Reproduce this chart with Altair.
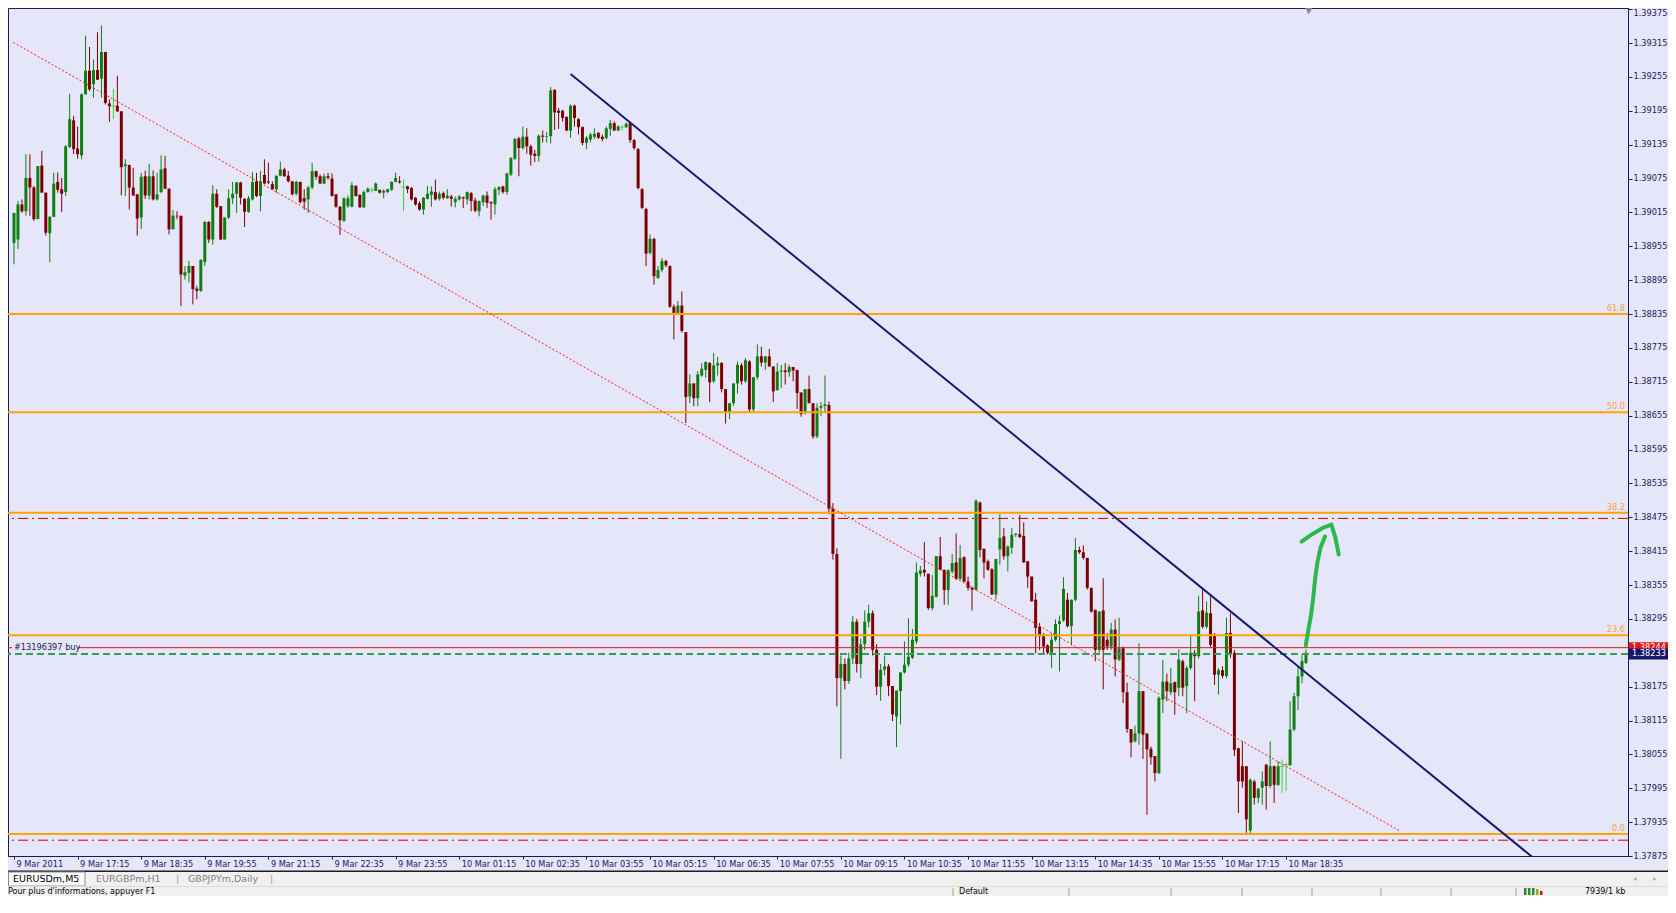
import altair as alt
import pandas as pd

# ---------------- values (EURUSDm, M5, 9-10 Mar 2011) ----------------
opens = [
1.38961,1.38967,1.39029,1.39017,1.39076,1.39059,1.39003,1.39098,1.39050,1.38978,
1.39007,1.39069,1.39056,1.39051,1.39131,1.39178,1.39128,1.39116,1.39224,1.39266,
1.39242,1.39267,1.39252,1.39299,1.39208,1.39203,1.39204,1.39194,1.39097,1.39099,
1.39059,1.39047,1.39006,1.39079,1.39045,1.39079,1.39038,1.39051,1.39093,1.39057,
1.38985,1.39009,1.39009,1.38903,1.38908,1.38920,1.38880,1.38876,1.38927,1.38998,
1.38967,1.39048,1.39026,1.38967,1.39006,1.39040,1.39048,1.39068,1.39039,1.39016,
1.39038,1.39070,1.39044,1.39081,1.39070,1.39065,1.39056,1.39080,1.39091,1.39080,
1.39070,1.39048,1.39069,1.39040,1.39038,1.39059,1.39088,1.39079,1.39066,1.39079,
1.39075,1.39047,1.39025,1.39000,1.39026,1.39025,1.39062,1.39046,1.39024,1.39051,
1.39055,1.39053,1.39055,1.39050,1.39051,1.39055,1.39069,1.39070,1.39060,1.39061,
1.39058,1.39041,1.39031,1.39020,1.39039,1.39046,1.39051,1.39039,1.39049,1.39040,
1.39043,1.39033,1.39038,1.39042,1.39038,1.39049,1.39036,1.39017,1.39033,1.39045,
1.39033,1.39029,1.39055,1.39061,1.39051,1.39082,1.39110,1.39146,1.39129,1.39149,
1.39132,1.39119,1.39115,1.39151,1.39149,1.39150,1.39232,1.39195,1.39195,1.39184,
1.39160,1.39204,1.39180,1.39166,1.39138,1.39144,1.39149,1.39156,1.39149,1.39147,
1.39163,1.39173,1.39160,1.39166,1.39166,1.39173,1.39143,1.39127,1.39056,1.39021,
1.38943,1.38968,1.38899,1.38913,1.38929,1.38920,1.38848,1.38837,1.38850,
1.38803,1.38689,1.38712,1.38686,1.38726,1.38736,1.38748,1.38716,1.38744,1.38748,
1.38702,1.38660,1.38677,1.38712,1.38744,1.38716,1.38751,1.38666,1.38723,1.38760,
1.38749,1.38760,1.38742,1.38700,1.38733,1.38735,1.38732,1.38741,1.38736,1.38696,
1.38660,1.38702,1.38677,1.38618,1.38669,1.38672,1.38674,1.38490,1.38410,1.38190,
1.38215,1.38185,1.38225,1.38290,1.38215,1.38250,1.38290,1.38305,1.38240,1.38175,
1.38205,
1.38211,1.38176,1.38122,1.38167,1.38200,1.38214,1.38226,1.38255,1.38375,1.38382,
1.38375,1.38314,1.38334,1.38406,1.38382,1.38346,1.38379,1.38395,1.38366,1.38404,
1.38361,1.38350,1.38347,1.38501,1.38419,1.38397,1.38383,1.38338,1.38418,1.38441,
1.38406,1.38421,1.38444,1.38445,1.38442,1.38397,1.38370,1.38329,1.38281,1.38264,
1.38248,1.38235,1.38258,1.38286,1.38292,1.38329,1.38282,1.38329,1.38417,1.38413,
1.38403,1.38350,1.38311,1.38240,1.38310,1.38258,1.38246,1.38276,1.38223,1.38243,
1.38165,1.38100,1.38078,1.38092,1.38167,1.38092,1.38065,1.38052,1.38022,1.38152,
1.38184,1.38165,1.38183,1.38173,1.38220,1.38176,1.38208,1.38235,1.38229,1.38310,
1.38281,1.38305,1.38267,1.38196,1.38204,1.38194,1.38270,1.38235,1.38066,1.38034,
1.38034,1.37920,1.38007,1.37978,1.37996,1.38037,1.37999,1.38034,1.38001,1.38034,
1.38037,1.38036,1.38099,1.38158,1.38193,1.38217,
]
highs = [
1.39014,1.39035,1.39038,1.39118,1.39118,1.39062,1.39097,1.39124,1.39050,1.39009,
1.39085,1.39086,1.39076,1.39134,1.39225,1.39186,1.39167,1.39226,1.39328,1.39308,
1.39286,1.39334,1.39346,1.39299,1.39215,1.39234,1.39257,1.39194,1.39109,1.39099,
1.39094,1.39047,1.39085,1.39089,1.39101,1.39089,1.39085,1.39116,1.39115,1.39057,
1.39019,1.39017,1.39009,1.38920,1.38929,1.38920,1.38885,1.38932,1.39000,1.39000,
1.39063,1.39056,1.39026,1.39006,1.39056,1.39069,1.39069,1.39069,1.39040,1.39044,
1.39086,1.39085,1.39088,1.39109,1.39103,1.39070,1.39080,1.39105,1.39094,1.39088,
1.39070,1.39071,1.39069,1.39056,1.39062,1.39103,1.39089,1.39082,1.39084,1.39085,
1.39084,1.39047,1.39026,1.39041,1.39045,1.39069,1.39063,1.39047,1.39054,1.39059,
1.39059,1.39068,1.39055,1.39056,1.39057,1.39070,1.39085,1.39079,1.39073,1.39062,
1.39060,1.39042,1.39035,1.39042,1.39062,1.39061,1.39073,1.39052,1.39052,1.39056,
1.39046,1.39043,1.39046,1.39043,1.39052,1.39051,1.39041,1.39036,1.39046,1.39052,
1.39035,1.39060,1.39061,1.39062,1.39085,1.39113,1.39147,1.39149,1.39167,1.39164,
1.39135,1.39126,1.39153,1.39160,1.39157,1.39237,1.39233,1.39200,1.39197,1.39185,
1.39206,1.39206,1.39182,1.39167,1.39150,1.39156,1.39164,1.39157,1.39153,1.39167,
1.39179,1.39176,1.39169,1.39170,1.39174,1.39174,1.39145,1.39129,1.39058,1.39023,
1.38976,1.38970,1.38920,1.38934,1.38931,1.38921,1.38852,1.38858,1.38875,
1.38803,1.38728,1.38712,1.38734,1.38748,1.38751,1.38750,1.38766,1.38759,1.38750,
1.38702,1.38677,1.38712,1.38751,1.38748,1.38757,1.38753,1.38723,1.38781,1.38777,
1.38760,1.38773,1.38742,1.38748,1.38745,1.38748,1.38745,1.38741,1.38736,1.38696,
1.38702,1.38726,1.38677,1.38677,1.38679,1.38726,1.38680,1.38500,1.38420,1.38230,
1.38225,1.38235,1.38300,1.38295,1.38260,1.38310,1.38320,1.38310,1.38250,1.38215,
1.38230,
1.38215,1.38176,1.38168,1.38201,1.38255,1.38296,1.38277,1.38395,1.38389,1.38431,
1.38375,1.38373,1.38406,1.38440,1.38382,1.38383,1.38410,1.38446,1.38426,1.38406,
1.38370,1.38352,1.38507,1.38503,1.38420,1.38400,1.38385,1.38401,1.38481,1.38456,
1.38425,1.38456,1.38447,1.38479,1.38466,1.38397,1.38370,1.38341,1.38288,1.38270,
1.38250,1.38270,1.38294,1.38301,1.38369,1.38341,1.38329,1.38438,1.38423,1.38425,
1.38403,1.38350,1.38311,1.38308,1.38367,1.38270,1.38288,1.38294,1.38297,1.38246,
1.38182,1.38100,1.38106,1.38252,1.38167,1.38092,1.38069,1.38052,1.38158,1.38222,
1.38198,1.38208,1.38184,1.38241,1.38223,1.38212,1.38267,1.38240,1.38336,1.38347,
1.38326,1.38335,1.38270,1.38208,1.38211,1.38297,1.38305,1.38240,1.38066,1.38078,
1.38034,1.38012,1.38010,1.37996,1.38025,1.38037,1.38078,1.38035,1.38043,1.38046,
1.38040,1.38149,1.38164,1.38211,1.38232,1.38241,
]
lows = [
1.38923,1.38950,1.39014,1.39009,1.39009,1.39000,1.39003,1.39050,1.38974,1.38927,
1.39007,1.39050,1.39016,1.39044,1.39129,1.39118,1.39110,1.39109,1.39224,1.39230,
1.39218,1.39250,1.39218,1.39206,1.39175,1.39180,1.39193,1.39045,1.39044,1.39020,
1.39044,1.38974,1.38986,1.39039,1.39038,1.39036,1.39036,1.39049,1.39056,1.38976,
1.38985,1.39003,1.38849,1.38896,1.38891,1.38852,1.38861,1.38874,1.38920,1.38961,
1.38958,1.39023,1.38966,1.38967,1.39003,1.39030,1.39014,1.39029,1.38989,1.39014,
1.39036,1.39042,1.39017,1.39065,1.39065,1.39055,1.39049,1.39079,1.39078,1.39068,
1.39045,1.39045,1.39031,1.39020,1.39014,1.39056,1.39073,1.39066,1.39065,1.39073,
1.39043,1.39023,1.38975,1.38998,1.39023,1.39024,1.39043,1.39023,1.39023,1.39050,
1.39050,1.39053,1.39048,1.39040,1.39049,1.39053,1.39068,1.39066,1.39017,1.39049,
1.39036,1.39027,1.39018,1.39011,1.39038,1.39025,1.39036,1.39036,1.39038,1.39039,
1.39025,1.39024,1.39036,1.39023,1.39029,1.39017,1.39015,1.39008,1.39026,1.39023,
1.39002,1.39011,1.39046,1.39048,1.39046,1.39079,1.39108,1.39079,1.39126,1.39119,
1.39098,1.39104,1.39105,1.39139,1.39139,1.39137,1.39161,1.39163,1.39176,1.39159,
1.39147,1.39167,1.39153,1.39134,1.39127,1.39139,1.39145,1.39145,1.39141,1.39144,
1.39150,1.39159,1.39159,1.39160,1.39164,1.39138,1.39126,1.39056,1.39021,1.38920,
1.38940,1.38887,1.38897,1.38909,1.38918,1.38846,1.38790,1.38834,1.38802,
1.38642,1.38677,1.38672,1.38672,1.38724,1.38722,1.38679,1.38713,1.38726,1.38696,
1.38641,1.38649,1.38672,1.38694,1.38710,1.38713,1.38660,1.38661,1.38719,1.38742,
1.38736,1.38742,1.38679,1.38700,1.38704,1.38710,1.38724,1.38716,1.38667,1.38653,
1.38657,1.38677,1.38614,1.38615,1.38654,1.38660,1.38480,1.38400,1.38140,1.38047,
1.38170,1.38180,1.38215,1.38200,1.38190,1.38240,1.38280,1.38230,1.38160,1.38150,
1.38195,
1.38158,1.38114,1.38068,1.38108,1.38198,1.38210,1.38224,1.38250,1.38370,1.38370,
1.38311,1.38310,1.38333,1.38381,1.38320,1.38320,1.38375,1.38364,1.38364,1.38360,
1.38345,1.38310,1.38345,1.38404,1.38367,1.38380,1.38338,1.38329,1.38391,1.38400,
1.38379,1.38410,1.38440,1.38438,1.38394,1.38350,1.38326,1.38234,1.38240,1.38234,
1.38232,1.38208,1.38255,1.38202,1.38290,1.38280,1.38248,1.38326,1.38410,1.38400,
1.38347,1.38306,1.38220,1.38235,1.38170,1.38240,1.38240,1.38193,1.38220,1.38146,
1.38093,1.38050,1.38076,1.38072,1.38047,1.37948,1.38037,1.38007,1.38020,1.38128,
1.38149,1.38160,1.38125,1.38158,1.38158,1.38128,1.38205,1.38149,1.38225,1.38278,
1.38278,1.38245,1.38178,1.38161,1.38190,1.38190,1.38226,1.38052,1.37951,1.37996,
1.37916,1.37914,1.37966,1.37969,1.37966,1.37957,1.37995,1.37969,1.37999,1.37987,
1.37990,1.38035,1.38096,1.38134,1.38181,1.38215,
]
closes = [
1.39014,1.39029,1.39017,1.39076,1.39059,1.39003,1.39097,1.39050,1.38979,1.39007,
1.39066,1.39055,1.39048,1.39132,1.39180,1.39127,1.39118,1.39224,1.39266,1.39233,
1.39267,1.39250,1.39299,1.39209,1.39203,1.39203,1.39194,1.39095,1.39100,1.39059,
1.39045,1.39004,1.39078,1.39045,1.39079,1.39038,1.39047,1.39091,1.39057,1.38985,
1.39009,1.39008,1.38905,1.38909,1.38920,1.38879,1.38876,1.38931,1.38998,1.38967,
1.39048,1.39025,1.38967,1.39006,1.39040,1.39048,1.39068,1.39041,1.39016,1.39040,
1.39069,1.39044,1.39070,1.39066,1.39068,1.39056,1.39080,1.39091,1.39079,1.39070,
1.39047,1.39069,1.39033,1.39034,1.39059,1.39088,1.39078,1.39066,1.39079,1.39076,
1.39044,1.39025,1.39001,1.39040,1.39040,1.39063,1.39044,1.39024,1.39051,1.39057,
1.39055,1.39066,1.39050,1.39053,1.39056,1.39069,1.39076,1.39068,1.39060,1.39056,
1.39038,1.39029,1.39020,1.39041,1.39048,1.39052,1.39038,1.39048,1.39041,1.39045,
1.39039,1.39039,1.39043,1.39040,1.39051,1.39035,1.39018,1.39035,1.39045,1.39032,
1.39031,1.39056,1.39060,1.39051,1.39084,1.39111,1.39145,1.39129,1.39149,1.39132,
1.39117,1.39115,1.39151,1.39149,1.39150,1.39231,1.39192,1.39191,1.39182,1.39160,
1.39204,1.39182,1.39166,1.39138,1.39147,1.39153,1.39154,1.39147,1.39145,1.39164,
1.39173,1.39160,1.39167,1.39166,1.39172,1.39143,1.39129,1.39058,1.39023,1.38942,
1.38968,1.38902,1.38913,1.38929,1.38921,1.38848,1.38837,1.38850,1.38805,
1.38688,1.38712,1.38686,1.38728,1.38738,1.38750,1.38714,1.38744,1.38748,1.38702,
1.38660,1.38677,1.38712,1.38745,1.38716,1.38753,1.38666,1.38723,1.38760,1.38749,
1.38760,1.38742,1.38698,1.38733,1.38735,1.38732,1.38741,1.38735,1.38695,1.38658,
1.38702,1.38677,1.38618,1.38669,1.38672,1.38675,1.38490,1.38410,1.38190,1.38215,
1.38185,1.38225,1.38290,1.38215,1.38250,1.38290,1.38305,1.38240,1.38175,1.38205,
1.38211,
1.38176,1.38126,1.38168,1.38200,1.38214,1.38228,1.38258,1.38377,1.38381,1.38377,
1.38314,1.38336,1.38406,1.38382,1.38346,1.38381,1.38394,1.38366,1.38403,1.38361,
1.38350,1.38347,1.38504,1.38417,1.38395,1.38382,1.38338,1.38401,1.38438,1.38406,
1.38423,1.38444,1.38446,1.38440,1.38395,1.38370,1.38326,1.38279,1.38264,1.38246,
1.38235,1.38258,1.38286,1.38291,1.38348,1.38282,1.38329,1.38417,1.38413,1.38403,
1.38350,1.38308,1.38240,1.38308,1.38240,1.38246,1.38276,1.38223,1.38243,1.38165,
1.38100,1.38076,1.38092,1.38167,1.38090,1.38064,1.38050,1.38022,1.38155,1.38184,
1.38167,1.38181,1.38165,1.38223,1.38173,1.38208,1.38235,1.38229,1.38308,1.38281,
1.38306,1.38249,1.38196,1.38204,1.38194,1.38270,1.38232,1.38063,1.38007,1.38007,
1.37940,1.38010,1.37978,1.37994,1.38007,1.37999,1.38034,1.38001,1.38034,1.38034,
1.38037,1.38099,1.38158,1.38193,1.38220,1.38235,
]
n_bars = len(closes)
assert len(opens) == len(highs) == len(lows) == n_bars == 326, (len(opens), len(highs), len(lows), n_bars)

time_tick_bars = [0, 16, 32, 48, 64, 80, 96, 112, 128, 144, 160, 176, 192, 208, 224, 240, 256, 272, 288, 304, 320]
time_tick_labels = ["9 Mar 2011", "9 Mar 17:15", "9 Mar 18:35", "9 Mar 19:55", "9 Mar 21:15", "9 Mar 22:35",
                    "9 Mar 23:55", "10 Mar 01:15", "10 Mar 02:35", "10 Mar 03:55", "10 Mar 05:15",
                    "10 Mar 06:35", "10 Mar 07:55", "10 Mar 09:15", "10 Mar 10:35", "10 Mar 11:55",
                    "10 Mar 13:15", "10 Mar 14:35", "10 Mar 15:55", "10 Mar 17:15", "10 Mar 18:35"]
price_ticks = [1.37875, 1.37935, 1.37995, 1.38055, 1.38115, 1.38175, 1.38235, 1.38295, 1.38355,
               1.38415, 1.38475, 1.38535, 1.38595, 1.38655, 1.38715, 1.38775, 1.38835, 1.38895,
               1.38955, 1.39015, 1.39075, 1.39135, 1.39195, 1.39255, 1.39315, 1.39375]

fib_names = ["0.0", "23.6", "38.2", "50.0", "61.8"]
fib_prices = [1.37914, 1.38266, 1.38483, 1.38661, 1.38835]
dashdot_prices = [1.37903, 1.38473]
order_price = 1.38244
order_label = "#13196397 buy"
bid_price = 1.38233

trend_bars = [140.0, 382.5]
trend_prices = [1.39260, 1.37870]
channel_bars = [-0.15, 348.7]
channel_prices = [1.39316, 1.37919]

arrow_stem_bars = [324.95, 325.5, 326.3, 326.8, 327.35, 327.9, 328.7, 329.8]
arrow_stem_prices = [1.38248, 1.38271, 1.38303, 1.38331, 1.38369, 1.38396, 1.38422, 1.38441]
arrow_head_bars = [323.9, 326.55, 329.2, 331.4, 332.4, 333.25]
arrow_head_prices = [1.38432, 1.38445, 1.38456, 1.38462, 1.38439, 1.38409]

shift_marker_bar = 325.7

tab_names = ["EURUSDm,M5", "EURGBPm,H1", "GBPJPYm,Daily"]
status_hint = "Pour plus d'informations, appuyer F1"
status_profile = "Default"
status_traffic = "7939/1 kb"

# ---------------- styling ----------------
FONT = "DejaVu Sans"
NAVY = "#1b1b5b"
BG = "#E6E6FA"
W, H = 1620, 848
RIGHT_PAD, BOTTOM_PAD = 40, 40
TOTAL_W = W + RIGHT_PAD

xs = alt.Scale(domain=[-0.25, 404.75], nice=False, zero=False)
ys = alt.Scale(domain=[1.37875, 1.39377], nice=False, zero=False)

label_expr = "[" + ",".join("'%s'" % s for s in time_tick_labels) + "][round(datum.value / 16)]"

x_axis = alt.Axis(values=time_tick_bars, labelExpr=label_expr, title="", grid=False, orient="bottom",
                  tickSize=3, tickColor=NAVY, domainColor=NAVY, labelColor=NAVY, labelFont=FONT,
                  labelFontSize=8.2, labelAlign="left", labelBaseline="top", labelPadding=1,
                  labelOffset=2, labelOverlap=False, labelFlush=False)
y_axis = alt.Axis(values=price_ticks, format=".5f", title="", grid=False, orient="right", tickSize=4,
                  tickColor=NAVY, domainColor=NAVY, labelColor=NAVY, labelFont=FONT, labelFontSize=8.2,
                  labelPadding=1, labelOverlap=False, labelFlush=False,
                  labelBaseline={"condition": {"test": "datum.value > 1.3937", "value": "top"},
                                 "value": "middle"})

candles = pd.DataFrame({"bar": list(range(n_bars)), "open": opens, "high": highs,
                        "low": lows, "close": closes})
candles["dir"] = ["up" if c > o else ("down" if c < o else "flat") for o, c in zip(opens, closes)]

color = alt.Color("dir:N", scale=alt.Scale(domain=["up", "down", "flat"],
                                           range=["#0e7f10", "#7d0000", "#3ccf3c"]), legend=None)

def X(f="bar"):
    return alt.X(f + ":Q", scale=xs, axis=x_axis)

def Y(f="p"):
    return alt.Y(f + ":Q", scale=ys, axis=y_axis)

base = alt.Chart(candles)
wicks = base.mark_rule(strokeWidth=1).encode(x=X(), y=Y("low"), y2="high:Q", color=color)
bodies = base.transform_filter("datum.open != datum.close").mark_bar(size=3).encode(
    x=X(), y=Y("open"), y2="close:Q", color=color)
dojis = base.transform_filter("datum.open == datum.close").mark_tick(
    orient="horizontal", size=5, thickness=1).encode(x=X(), y=Y("open"), color=color)

fib_df = pd.DataFrame({"p": fib_prices, "name": fib_names})
fib_lines = alt.Chart(fib_df).mark_rule(color="#FFA500", strokeWidth=2).encode(y=Y())
fib_text = alt.Chart(fib_df).mark_text(align="right", baseline="bottom", dy=-1, color="#F2A33A",
                                       font=FONT, fontSize=8.2).encode(
    x=alt.value(W - 3), y=Y(), text="name:N")

dashdots = alt.Chart(pd.DataFrame({"p": dashdot_prices})).mark_rule(
    color="#c80000", strokeWidth=1, strokeDash=[10, 4, 2, 4]).encode(y=Y())
order_line = alt.Chart(pd.DataFrame({"p": [order_price]})).mark_rule(
    color="#e01818", strokeWidth=1).encode(y=Y())
bid_line = alt.Chart(pd.DataFrame({"p": [bid_price]})).mark_rule(
    color="#3c9c55", strokeWidth=2, strokeDash=[7, 4]).encode(y=Y())

order_bg = alt.Chart(pd.DataFrame({"p": [order_price]})).mark_rule(color=BG, strokeWidth=8).encode(
    x=alt.value(4), x2=alt.value(70), y=Y())
order_text = alt.Chart(pd.DataFrame({"p": [order_price]})).mark_text(
    text=order_label, align="left", baseline="middle", color=NAVY, font=FONT, fontSize=8.2).encode(
    x=alt.value(6), y=Y())

channel_line = alt.Chart(pd.DataFrame({"bar": channel_bars, "p": channel_prices})).mark_line(
    color="#ff1a1a", strokeWidth=1, strokeDash=[2, 2], clip=True).encode(x=X(), y=Y())
trend_line = alt.Chart(pd.DataFrame({"bar": trend_bars, "p": trend_prices})).mark_line(
    color="#191970", strokeWidth=2, clip=True).encode(x=X(), y=Y())

arrow_df = pd.DataFrame({
    "bar": arrow_stem_bars + arrow_head_bars,
    "p": arrow_stem_prices + arrow_head_prices,
    "seg": ["stem"] * len(arrow_stem_bars) + ["head"] * len(arrow_head_bars),
    "k": list(range(len(arrow_stem_bars))) + list(range(len(arrow_head_bars))),
})
arrow = alt.Chart(arrow_df).mark_line(color="#2db84b", strokeWidth=4, strokeCap="round",
                                      strokeJoin="round").encode(
    x=X(), y=Y(), detail="seg:N", order="k:Q")

def price_tag(price, fill):
    d = pd.DataFrame({"p": [price]})
    box = alt.Chart(d).mark_rule(color=fill, strokeWidth=11).encode(
        x=alt.value(W + 1), x2=alt.value(TOTAL_W), y=Y())
    txt = alt.Chart(d).mark_text(align="left", baseline="middle", color="#ffffff", font=FONT,
                                 fontSize=8.2).encode(
        x=alt.value(W + 4), y=Y(), text=alt.Text("p:Q", format=".5f"))
    return [box, txt]

marker = alt.Chart(pd.DataFrame({"bar": [shift_marker_bar]})).mark_point(
    shape="triangle-down", filled=True, size=60, color="#85859a", opacity=1).encode(
    x=X(), y=alt.value(3))

# ---------------- terminal tab bar / status bar ----------------
one = pd.DataFrame({"k": [0]})

def ui_rect(x, x2, y, y2, fill, stroke=""):
    kw = {"fill": fill}
    if stroke:
        kw["stroke"] = stroke
        kw["strokeWidth"] = 1
    return alt.Chart(one).mark_rect(**kw).encode(
        x=alt.value(x), x2=alt.value(x2), y=alt.value(y), y2=alt.value(y2))

def ui_text(text, x, y, color, size=9.5, baseline="middle"):
    return alt.Chart(one).mark_text(text=text, align="left", baseline=baseline, color=color,
                                    font=FONT, fontSize=size).encode(x=alt.value(x), y=alt.value(y))

def ui_vline(x, y, y2, color):
    return alt.Chart(one).mark_rule(color=color, strokeWidth=1).encode(
        x=alt.value(x), y=alt.value(y), y2=alt.value(y2))

TAB_Y = 871
ui = [
    ui_rect(0, TOTAL_W, 862.5, 864, "#1e1e1e"),
    ui_rect(0, TOTAL_W, 864, 878, "#f0f0f0"),
    ui_rect(0.5, 77, 864, 878, "#ffffff", stroke="#8c8c8c"),
    ui_text(tab_names[0], 5, TAB_Y, "#000000"),
    ui_text(tab_names[1], 88, TAB_Y, "#808080"),
    ui_text("|", 168, TAB_Y, "#a0a0a0"),
    ui_text(tab_names[2], 180, TAB_Y, "#808080"),
    ui_text("|", 262, TAB_Y, "#a0a0a0"),
    alt.Chart(one).mark_point(shape="triangle-left", filled=True, size=14, color="#a8a8a8", opacity=1)
       .encode(x=alt.value(1627), y=alt.value(TAB_Y)),
    alt.Chart(one).mark_point(shape="triangle-right", filled=True, size=14, color="#a8a8a8", opacity=1)
       .encode(x=alt.value(1647), y=alt.value(TAB_Y)),
    ui_rect(0, TOTAL_W, 878, 888, "#f0f0f0"),
    ui_rect(0, TOTAL_W, 878, 879, "#dcdcdc"),
    ui_text(status_hint, 0, 879.5, "#000000", size=8, baseline="top"),
    ui_text(status_profile, 951, 879.5, "#000000", size=8, baseline="top"),
    ui_text(status_traffic, 1577, 879.5, "#000000", size=8, baseline="top"),
]
for sx in [945, 1061, 1163, 1234, 1304, 1373, 1443, 1508]:
    ui.append(ui_vline(sx, 880, 888, "#a0a0a0"))
for bx, bc, top in [(1516, "#2c8a2c", 880), (1520, "#2c8a2c", 880), (1524, "#2c8a2c", 880),
                    (1528, "#9aa82c", 881), (1532, "#b02020", 883)]:
    ui.append(ui_rect(bx, bx + 2.5, top, 887, bc))

layers = [wicks, bodies, dojis, fib_lines, dashdots, order_line, bid_line, channel_line, trend_line,
          fib_text, order_bg, order_text, arrow] + price_tag(order_price, "#e81515") + \
         price_tag(bid_price, "#16166a") + [marker] + ui

chart = alt.layer(*layers).properties(
    width=W, height=H, background=BG,
    padding={"left": 0, "top": 0, "right": RIGHT_PAD, "bottom": BOTTOM_PAD},
    autosize=alt.AutoSizeParams(type="none"),
).configure_view(stroke=NAVY, strokeWidth=1)

chart.save("out.html", embed_options={"renderer": "svg", "actions": False})
